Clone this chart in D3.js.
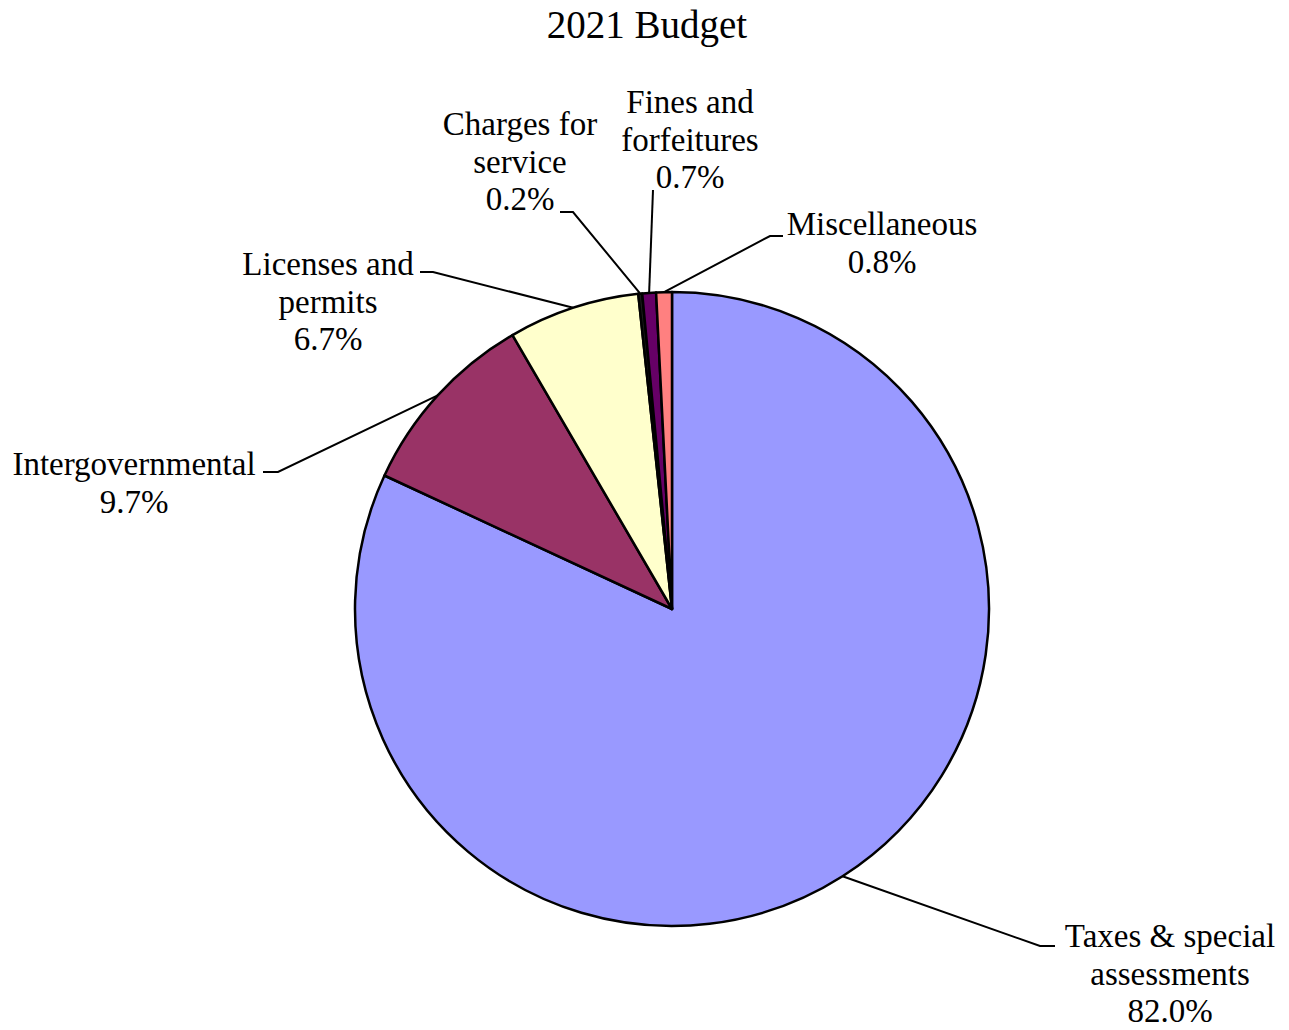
<!DOCTYPE html>
<html>
<head>
<meta charset="utf-8">
<script src="https://cdn.jsdelivr.net/npm/d3@7"></script>
<style>
  html, body { margin: 0; padding: 0; background: #fff; }
  text { font-family: "Liberation Serif", "Times New Roman", serif; fill: #000; }
</style>
</head>
<body>
<svg id="chart" width="1289" height="1030"></svg>
<script>
// Revenue sources for the 2021 budget, in percent
const categories = [
  "Taxes & special assessments",
  "Intergovernmental",
  "Licenses and permits",
  "Charges for service",
  "Fines and forfeitures",
  "Miscellaneous"
];
const values = [82.0, 9.7, 6.7, 0.2, 0.7, 0.8];
const valueLabels = ["82.0%", "9.7%", "6.7%", "0.2%", "0.7%", "0.8%"];
// Label text broken into lines (category lines then the percentage)
const labelLines = [
  ["Taxes & special", "assessments"],
  ["Intergovernmental"],
  ["Licenses and", "permits"],
  ["Charges for", "service"],
  ["Fines and", "forfeitures"],
  ["Miscellaneous"]
];
const colors = ["#9999FF", "#993366", "#FFFFCC", "#1a1a1a", "#660066", "#FF8080"];

const svg = d3.select("#chart");
const cx = 672, cy = 609, R = 317;

svg.append("text")
  .attr("x", 647).attr("y", 38)
  .attr("text-anchor", "middle")
  .style("font-size", "39px")
  .text("2021 Budget");

const pie = d3.pie().sort(null).value(d => d)
  .startAngle(0).endAngle(2 * Math.PI);
const arcs = pie(values);
const arc = d3.arc().innerRadius(0).outerRadius(R);

const g = svg.append("g").attr("transform", `translate(${cx},${cy})`);
g.selectAll("path.slice")
  .data(arcs)
  .join("path")
  .attr("class", "slice")
  .attr("d", arc)
  .attr("fill", (d, i) => colors[i])
  .attr("stroke", "#000")
  .attr("stroke-width", 2.5)
  .attr("stroke-linejoin", "round");

// Label placement: text centre, first baseline, leader elbow and end
const layout = [
  { x: 1170, y: 947, elbow: [1040, 946], end: [1055, 946] },
  { x: 134,  y: 475, elbow: [278, 472],  end: [263, 472] },
  { x: 328,  y: 275, elbow: [433, 272],  end: [420, 272] },
  { x: 520,  y: 135, elbow: [573, 212],  end: [560, 212] },
  { x: 690,  y: 113, elbow: [653, 190],  end: [653, 190] },
  { x: 882,  y: 235, elbow: [770, 236],  end: [783, 236] }
];
const lineH = 37.5;

arcs.forEach((a, i) => {
  const L = layout[i];
  const mid = (a.startAngle + a.endAngle) / 2;
  const sx = cx + R * Math.sin(mid);
  const sy = cy - R * Math.cos(mid);
  svg.append("polyline")
    .attr("points", [[sx, sy], L.elbow, L.end].map(p => p.join(",")).join(" "))
    .attr("fill", "none")
    .attr("stroke", "#000")
    .attr("stroke-width", 2);

  const t = svg.append("text")
    .attr("text-anchor", "middle")
    .style("font-size", "33px");
  const lines = labelLines[i].concat([valueLabels[i]]);
  lines.forEach((s, k) => {
    t.append("tspan").attr("x", L.x).attr("y", L.y + k * lineH).text(s);
  });
});
</script>
</body>
</html>
